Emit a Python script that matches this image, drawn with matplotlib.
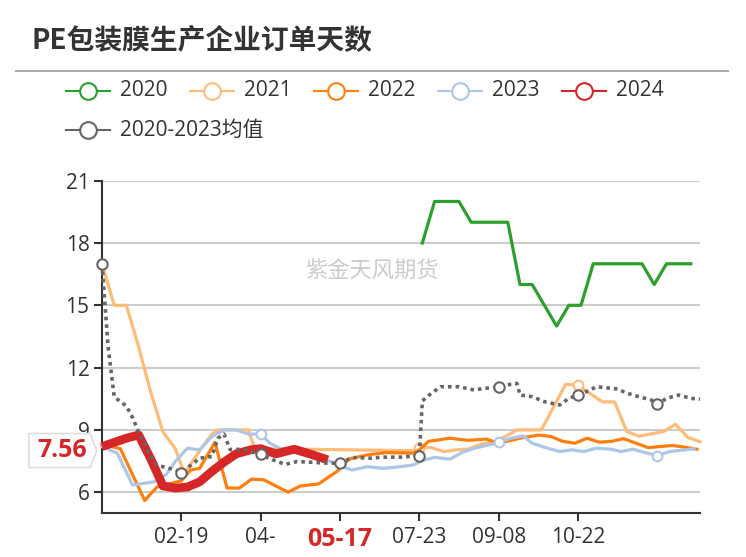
import matplotlib
matplotlib.use("Agg")
import matplotlib.pyplot as plt
from matplotlib.lines import Line2D
from matplotlib.patches import Polygon

plt.rcParams['font.family'] = ['Open Sans', 'Noto Sans CJK SC', 'DejaVu Sans']

# ---- data (x = position on the category axis, y = order days) ----
tick_pos = [13, 26, 39, 52, 65, 78]
tick_labels = ['02-19', '04-', '05-17', '07-23', '09-08', '10-22']
today_label = '05-17'

x_2020 = [52.5, 54.5, 56.5, 58.5, 60.5, 62.5, 64.5, 66.5, 68.5, 70.5, 74.5, 76.5,
          78.5, 80.5, 82.5, 84.5, 86.5, 88.5, 90.5, 92.5, 94.5, 96.5]
y_2020 = [18, 20, 20, 20, 19, 19, 19, 19, 16, 16, 14, 15,
          15, 17, 17, 17, 17, 17, 16, 17, 17, 17]

x_2021 = [0, 2, 4, 6, 8, 10, 12, 13.5, 16, 18, 19, 24, 25, 51, 52, 54, 56, 58, 60, 62,
          65, 68, 72, 76, 78, 82, 84, 86, 88, 92, 94, 96, 98]
y_2021 = [17.0, 15.0, 15.0, 13.0, 10.8, 8.9, 8.1, 6.9, 8.0, 8.8, 9.0, 9.0, 8.1, 8.0, 8.15, 8.15, 7.96, 8.04, 8.08, 8.3,
          8.5, 9.0, 9.0, 11.2, 11.15, 10.35, 10.35, 8.92, 8.7, 8.92, 9.27, 8.64, 8.43]

x_2022 = [0, 3, 7, 9, 13, 14.5, 16, 18.5, 20.5, 22.5, 24.5, 26.5, 30.5, 32.5, 35.5, 38.5, 40.5,
          43.5, 46.5, 51, 52, 53.5, 57, 60, 63, 65, 68.5, 71.5, 73.5, 75.5, 77.5, 79.5, 81.5,
          83.5, 85.5, 87.5, 89.5, 91.5, 93.5, 95.5, 97.5]
y_2022 = [8.3, 8.1, 5.6, 6.25, 6.55, 7.07, 7.15, 8.4, 6.2, 6.2, 6.63, 6.6, 6.0, 6.3, 6.4, 7.0, 7.6,
          7.8, 7.91, 7.88, 8.04, 8.45, 8.6, 8.5, 8.56, 8.36, 8.6, 8.75, 8.69, 8.45, 8.36, 8.6, 8.41,
          8.45, 8.58, 8.36, 8.15, 8.2, 8.25, 8.17, 8.07]

x_2023 = [0, 2.5, 5, 8.5, 10.5, 12, 14, 16, 18, 20, 22, 24, 26, 27.5, 29.5, 32, 35, 37.5, 39,
          41, 43.5, 46, 48, 51, 52.5, 54.5, 57, 59, 61, 63.5, 65, 67, 69, 70.5, 73, 75, 77,
          79, 81, 83.5, 85, 87, 89, 91, 93, 95.5, 97]
y_2023 = [8.2, 7.88, 6.35, 6.5, 6.84, 7.48, 8.12, 8.04, 8.68, 9.0, 9.0, 8.8, 8.8, 8.36, 8.07, 7.9, 7.7, 7.48, 7.27,
          7.07, 7.23, 7.15, 7.2, 7.31, 7.52, 7.68, 7.59, 7.91, 8.12, 8.28, 8.4, 8.6, 8.71, 8.36, 8.12, 7.96, 8.04,
          7.96, 8.12, 8.07, 7.96, 8.07, 7.91, 7.76, 7.96, 8.04, 8.09]

x_2024 = [0, 2, 4, 6, 8, 10, 12, 14, 16, 18, 20, 22, 24.5, 26, 28.5, 31.5, 34, 37]
y_2024 = [8.2, 8.4, 8.6, 8.76, 7.6, 6.3, 6.2, 6.25, 6.5, 7.0, 7.45, 7.85, 8.05, 8.1, 7.85, 8.07, 7.85, 7.56]

x_mean = [0, 1, 2, 3, 4, 5, 6, 7, 8, 9, 10, 12, 13, 15, 16, 18, 19, 20, 21, 23, 26, 28, 30, 32,
          35, 37, 39, 41, 44, 46, 49, 52, 52.5, 54, 55.5, 58.5, 61, 62.5, 65, 67, 68, 68.5, 70.5,
          72.5, 75, 76.5, 78, 80, 81, 84.5, 86, 88, 90, 91, 92.5, 94.5, 96.5, 98]
y_mean = [17.0, 13.0, 10.6, 10.36, 10.15, 9.6, 8.9, 8.3, 7.7, 7.3, 7.23, 7.07, 6.95, 7.4, 7.64, 7.72, 8.6, 8.8, 8.05, 8.07, 7.82, 7.56, 7.34, 7.48,
          7.43, 7.4, 7.4, 7.67, 7.64, 7.69, 7.69, 7.76, 10.4, 10.77, 11.08, 11.08, 10.92, 11.0, 11.05, 11.2, 11.24, 10.68, 10.6,
          10.36, 10.2, 10.52, 10.68, 10.92, 11.08, 10.97, 10.77, 10.6, 10.44, 10.23, 10.52, 10.68, 10.52, 10.48]

last_value = 7.56

names = ['2020', '2021', '2022', '2023', '2024', '2020-2023均值']
colors = ['#2ca02c', '#ffbb78', '#ff7f0e', '#aec7e8', '#d62728', '#666666']

W, H = 746, 557
fig = plt.figure(figsize=(W / 100, H / 100), dpi=100)
ax = fig.add_axes([102 / W, 1 - 513 / H, 598 / W, (513 - 180.7) / H])


def fx(p):
    return p / W


def fy(p):
    return 1 - p / H


def marks(xs, where):
    return [i for i, x in enumerate(xs) if x in where]


ax.plot(x_2020, y_2020, color=colors[0], lw=2.3, clip_on=False, zorder=3)
ax.plot(x_2021, y_2021, color=colors[1], lw=2.3, clip_on=False, zorder=3,
        marker='o', ms=7, mfc='white', mec=colors[1], mew=1.5, markevery=marks(x_2021, [52, 78]))
ax.plot(x_2022, y_2022, color=colors[2], lw=2.3, clip_on=False, zorder=3)
ax.plot(x_2023, y_2023, color=colors[3], lw=2.3, clip_on=False, zorder=3,
        marker='o', ms=7, mfc='white', mec=colors[3], mew=1.5, markevery=marks(x_2023, [26, 65, 91]))
ax.plot(x_2024, y_2024, color=colors[4], lw=6.3, clip_on=False, zorder=4,
        solid_joinstyle='round', solid_capstyle='butt')
ax.plot(x_mean, y_mean, color=colors[5], lw=2.6, ls=(0, (1, 1.1)), dash_capstyle='butt',
        clip_on=False, zorder=5, marker='o', ms=7.5, mfc='white', mec=colors[5], mew=1.5,
        markevery=marks(x_mean, [0, 13, 26, 39, 52, 65, 78, 91]))

ax.set_xlim(0, 98)
ax.set_ylim(5, 21)
ax.set_yticks([6, 9, 12, 15, 18, 21])
ax.set_xticks(tick_pos)
ax.set_xticklabels(tick_labels)
ax.tick_params(axis='both', length=6, width=1.5, color='#333333', labelcolor='#333333', labelsize=15)
ax.tick_params(axis='y', pad=3)
ax.tick_params(axis='x', pad=4)
for t in ax.get_xticklabels():
    if t.get_text() == today_label:
        t.set_color('#d62728')
        t.set_fontweight('bold')
        t.set_fontsize(18)
ax.grid(axis='y', color='#cccccc', lw=1.5, zorder=0)
ax.set_axisbelow(True)
for s in ['top', 'right']:
    ax.spines[s].set_visible(False)
for s in ['left', 'bottom']:
    ax.spines[s].set_color('#333333')
    ax.spines[s].set_linewidth(1.5)

# title and separator
fig.text(fx(32), fy(41), 'PE包装膜生产企业订单天数', fontsize=20, fontweight='bold',
         color='#333333', va='center', family=['Noto Sans CJK SC'])
fig.add_artist(Line2D([fx(16), fx(728)], [fy(70.7), fy(70.7)], color='#aaaaaa', lw=1.5))

# legend
for i, (name, c) in enumerate(zip(names, colors)):
    if i < 5:
        x0, y0 = 65.7 + i * 124, 90.7
    else:
        x0, y0 = 65.7, 130
    fig.add_artist(Line2D([fx(x0), fx(x0 + 44)], [fy(y0), fy(y0)], color=c, lw=1.5))
    fig.add_artist(Line2D([fx(x0 + 22)], [fy(y0)], marker='o', ms=12, mfc='white', mec=c, mew=1.5))
    fig.text(fx(x0 + 54), fy(y0), name, fontsize=15, color='#333333', va='center')

# watermark
fig.text(fx(372), fy(271), '紫金天风期货', fontsize=16, color='#cccccc', ha='center', va='center',
         family=['Noto Sans CJK SC'])

# last value tag on the y axis
box = [(29, 433.5), (90, 433.5), (96.7, 450.5), (90, 467.5), (29, 467.5)]
fig.add_artist(Polygon([(fx(a), fy(b)) for a, b in box], closed=True, transform=fig.transFigure,
                       facecolor='white', edgecolor='#dddddd', lw=1.2, zorder=6))
fig.text(fx(62), fy(450.5), f'{last_value:.2f}', fontsize=18, fontweight='bold', color='#d62728',
         ha='center', va='center', zorder=7)

fig.savefig('out.png', dpi=100)
